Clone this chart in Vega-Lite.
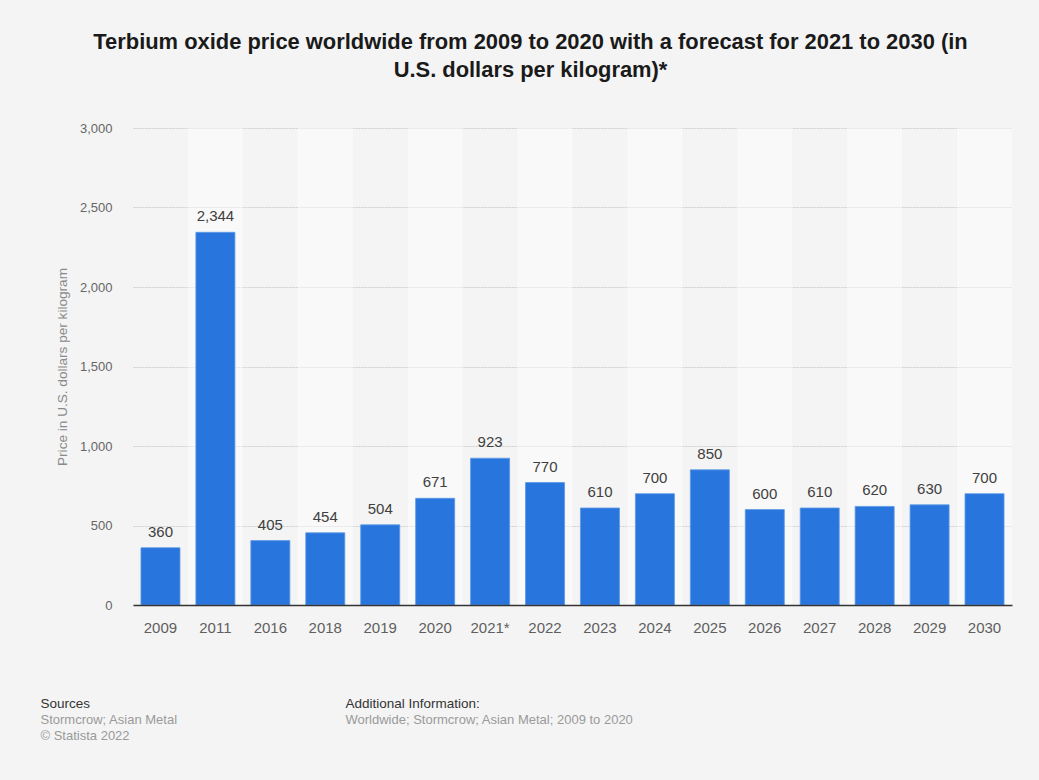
{
  "$schema": "https://vega.github.io/schema/vega-lite/v6.json",
  "autosize": "none",
  "width": 879,
  "height": 477,
  "padding": {"left": 133, "top": 128, "right": 27, "bottom": 175},
  "background": "#f4f4f4",
  "config": {
    "view": {"stroke": null},
    "font": "Liberation Sans",
    "axis": {"labelFont": "Liberation Sans", "titleFont": "Liberation Sans"}
  },
  "title": {
    "text": ["Terbium oxide price worldwide from 2009 to 2020 with a forecast for 2021 to 2030 (in", "U.S. dollars per kilogram)*"],
    "anchor": "middle",
    "dx": -42,
    "fontSize": 21.9,
    "fontWeight": "bold",
    "font": "Liberation Sans",
    "color": "#1a1a1a",
    "lineHeight": 28.5,
    "offset": 40
  },
  "data": {
    "values": [
      {"year": "2009", "price": 360},
      {"year": "2011", "price": 2344},
      {"year": "2016", "price": 405},
      {"year": "2018", "price": 454},
      {"year": "2019", "price": 504},
      {"year": "2020", "price": 671},
      {"year": "2021*", "price": 923},
      {"year": "2022", "price": 770},
      {"year": "2023", "price": 610},
      {"year": "2024", "price": 700},
      {"year": "2025", "price": 850},
      {"year": "2026", "price": 600},
      {"year": "2027", "price": 610},
      {"year": "2028", "price": 620},
      {"year": "2029", "price": 630},
      {"year": "2030", "price": 700}
    ]
  },
  "resolve": {"axis": {"x": "independent", "y": "independent"}},
  "layer": [
    {
      "mark": {"type": "bar", "width": {"band": 1.4085}, "fill": "white"},
      "encoding": {
        "x": {
          "field": "year", "type": "nominal", "sort": null,
          "scale": {"paddingInner": 0.29, "paddingOuter": 0.145},
          "axis": {
            "orient": "bottom", "labels": false, "ticks": false, "domain": false, "grid": false,
            "title": "Worldwide; Stormcrow; Asian Metal; 2009 to 2020",
            "titleX": 212, "titleY": 118, "titleAlign": "left", "titleAnchor": null,
            "titleBaseline": "alphabetic", "titleColor": "#9a9a9a", "titleFontSize": 13, "titleFontWeight": "normal"
          }
        },
        "y": {"datum": 3000, "type": "quantitative", "scale": {"domain": [0, 3000], "nice": false}, "axis": null},
        "y2": {"datum": 0},
        "opacity": {
          "condition": {"test": "indexof(['2011','2018','2020','2022','2024','2026','2028','2030'], datum.year) >= 0", "value": 0.45},
          "value": 0
        }
      }
    },
    {
      "mark": {"type": "bar", "color": "#2876dd", "stroke": "#5b98e6", "strokeWidth": 0.8},
      "encoding": {
        "x": {
          "field": "year", "type": "nominal", "sort": null,
          "axis": {
            "orient": "bottom", "labelAngle": 0, "labelFontSize": 15, "labelColor": "#5f5f5f",
            "labelPadding": 15, "ticks": false, "tickSize": 0, "domainColor": "#333333", "domainWidth": 1.5,
            "grid": false, "zindex": 1,
            "title": "Sources", "titleX": -93, "titleY": 102, "titleAlign": "left", "titleAnchor": null,
            "titleBaseline": "alphabetic", "titleColor": "#333333", "titleFontSize": 13.5, "titleFontWeight": "normal"
          }
        },
        "y": {
          "field": "price", "type": "quantitative",
          "axis": {
            "values": [0, 500, 1000, 1500, 2000, 2500, 3000], "format": ",.0f",
            "labelFontSize": 13, "labelColor": "#666666", "labelPadding": 21, "ticks": false, "tickSize": 0,
            "domain": false, "grid": true, "gridColor": "#cfcfcf", "gridDash": [2, 1], "gridWidth": 1,
            "title": "Price in U.S. dollars per kilogram", "titleX": -71, "titleY": 238.5, "titleAngle": -90,
            "titleBaseline": "middle", "titleAlign": "center", "titleColor": "#8a8a8a", "titleFontSize": 13.6, "titleFontWeight": "normal"
          }
        }
      }
    },
    {
      "mark": {"type": "text", "fontSize": 15, "color": "#404040", "baseline": "alphabetic", "dy": -11},
      "encoding": {
        "x": {
          "field": "year", "type": "nominal", "sort": null,
          "axis": {
            "orient": "bottom", "labels": false, "ticks": false, "domain": false, "grid": false,
            "title": ["Stormcrow; Asian Metal", "© Statista 2022"],
            "titleX": -93, "titleY": 118, "titleAlign": "left", "titleAnchor": null,
            "titleBaseline": "alphabetic", "titleColor": "#9a9a9a", "titleFontSize": 13, "titleFontWeight": "normal",
            "titleLineHeight": 16
          }
        },
        "y": {
          "field": "price", "type": "quantitative",
          "axis": {
            "orient": "right", "labels": false, "ticks": false, "domain": false, "grid": false,
            "title": "Additional Information:", "titleAngle": 0, "titleX": -667, "titleY": 579,
            "titleAlign": "left", "titleAnchor": null, "titleBaseline": "alphabetic",
            "titleColor": "#333333", "titleFontSize": 13.5, "titleFontWeight": "normal"
          }
        },
        "text": {"field": "price", "type": "quantitative", "format": ","}
      }
    }
  ]
}
